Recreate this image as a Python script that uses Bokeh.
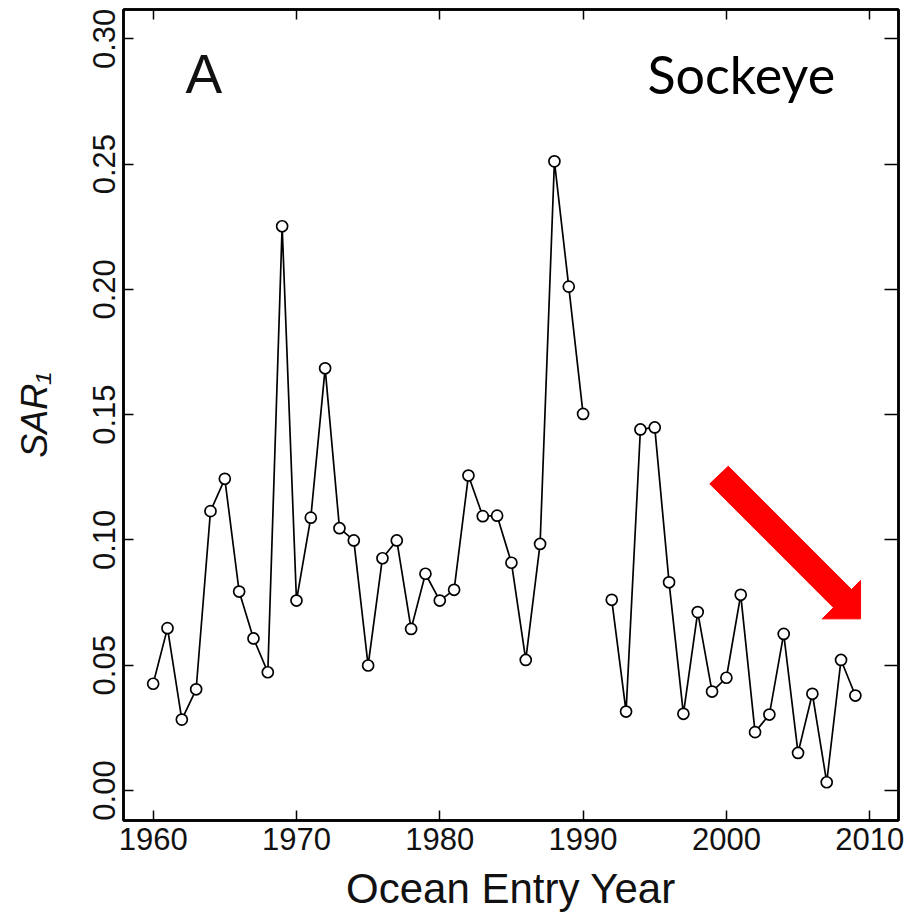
from bokeh.plotting import figure
from bokeh.models import LinearAxis, FixedTicker, Label, Range1d, CustomJSTickFormatter
from bokeh.embed import file_html
from bokeh.resources import INLINE

# ---- data ----
years = list(range(1960, 2010))
sar1 = [0.0426, 0.0648, 0.0283, 0.0404, 0.1115, 0.1244, 0.0794, 0.0607, 0.0472, 0.2252,
        0.0758, 0.1089, 0.1685, 0.1047, 0.0998, 0.0499, 0.0927, 0.0998, 0.0645, 0.0865,
        0.0758, 0.0801, 0.1257, 0.1095, 0.1097, 0.0909, 0.0521, 0.0984, 0.2511, 0.2011,
        0.1503, float("nan"), 0.0761, 0.0315, 0.1441, 0.1449, 0.0831, 0.0306, 0.0712, 0.0395,
        0.0450, 0.0781, 0.0233, 0.0303, 0.0625, 0.0150, 0.0386, 0.0033, 0.0521, 0.0379]
x_ticks = [1960, 1970, 1980, 1990, 2000, 2010]
y_ticks = [0.0, 0.05, 0.10, 0.15, 0.20, 0.25, 0.30]
y_tick_labels = ["0.00", "0.05", "0.10", "0.15", "0.20", "0.25", "0.30"]
x_label = "Ocean Entry Year"
y_label = "SAR\u2081"
panel_letter = "A"
species = "Sockeye"

# trend arrow outline (decoration, data units)
arrow_x = [2000.13, 2008.73, 2009.36, 2009.36, 2006.69, 2007.47, 1998.84]
arrow_y = [0.1294, 0.0802, 0.0838, 0.0685, 0.0685, 0.0730, 0.1224]

FONT = "Liberation Sans"
INK = "#111111"

p = figure(width=906, height=921, output_backend="svg", toolbar_location=None,
           x_range=Range1d(1957.93, 2012.01), y_range=Range1d(-0.01197, 0.3117),
           min_border_left=123, min_border_right=8, min_border_top=9, min_border_bottom=101)
p.background_fill_color = "white"
p.border_fill_color = "white"
p.outline_line_color = "black"
p.outline_line_width = 2.5
p.xgrid.visible = False
p.ygrid.visible = False

def style_axis(ax, ticks):
    ax.ticker = FixedTicker(ticks=ticks)
    ax.major_tick_in = 10
    ax.major_tick_out = 0
    ax.minor_tick_in = 0
    ax.minor_tick_out = 0
    ax.major_tick_line_color = "black"
    ax.major_tick_line_width = 1.5
    ax.axis_line_color = "black"
    ax.axis_line_width = 2.5
    ax.major_label_text_font = FONT
    ax.major_label_text_color = INK

xa = p.xaxis[0]
style_axis(xa, x_ticks)
xa.major_label_text_font_size = "31px"
xa.major_label_standoff = 7
xa.axis_label = x_label
xa.axis_label_text_font = FONT
xa.axis_label_text_font_size = "42px"
xa.axis_label_text_font_style = "normal"
xa.axis_label_text_color = INK
xa.axis_label_standoff = 12

ya = p.yaxis[0]
style_axis(ya, y_ticks)
ya.major_label_overrides = {t: s for t, s in zip(y_ticks, y_tick_labels)}
ya.major_label_text_font_size = "31px"
ya.major_label_orientation = "vertical"
ya.major_label_standoff = 8
ya.axis_label = y_label
ya.axis_label_text_font = FONT
ya.axis_label_text_font_size = "36px"
ya.axis_label_text_font_style = "italic"
ya.axis_label_text_color = INK
ya.axis_label_standoff = 36

blank = CustomJSTickFormatter(code="return ''")
top = LinearAxis(formatter=blank, major_label_text_font_size="0px", major_label_standoff=0)
style_axis(top, x_ticks)
right = LinearAxis(formatter=blank, major_label_text_font_size="0px", major_label_standoff=0)
style_axis(right, y_ticks)
right.major_tick_in = 14
p.add_layout(top, "above")
p.add_layout(right, "right")

# red trend arrow
p.patch(arrow_x, arrow_y, fill_color="#ff0000", line_color="#ff0000", line_width=1)

# series
p.line(years, sar1, line_color="black", line_width=1.7)
p.scatter(years, sar1, size=11, marker="circle", fill_color="white", line_color="black", line_width=1.7)

# panel annotations
p.add_layout(Label(x=62, y=747, x_units="screen", y_units="screen", text=panel_letter,
                   text_align="left", text_baseline="alphabetic",
                   text_font=FONT, text_font_size="55px", text_color=INK))
p.add_layout(Label(x=524, y=747, x_units="screen", y_units="screen", text=species,
                   text_align="left", text_baseline="alphabetic",
                   text_font="Lato", text_font_size="52px", text_color="black"))

open("out.html", "w").write(file_html(p, INLINE))
